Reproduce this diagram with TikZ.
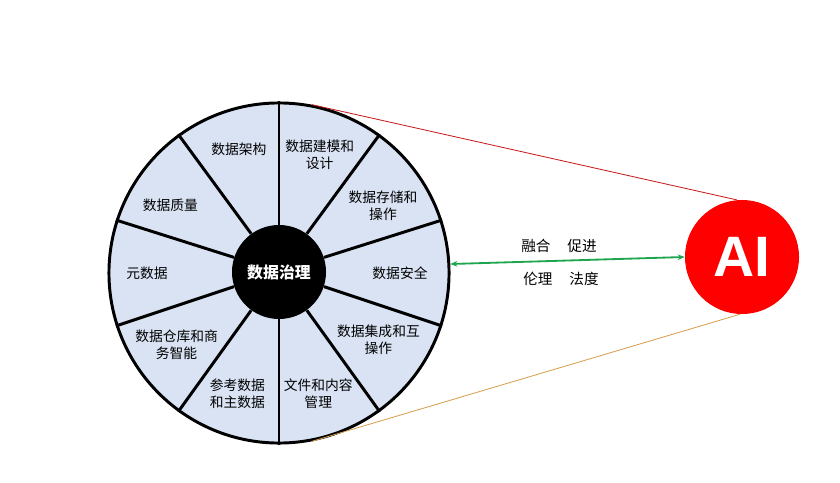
\documentclass[tikz,border=0pt]{standalone}
\usepackage{fontspec}
\setmainfont{Liberation Sans}
\newfontfamily\cjk{Noto Sans CJK SC}
\usetikzlibrary{arrows.meta}
\definecolor{segfill}{HTML}{DAE3F3}
\definecolor{aired}{HTML}{FF0000}
\definecolor{linkgreen}{HTML}{1FA44F}
\definecolor{upred}{HTML}{C81E1E}
\definecolor{downorange}{HTML}{D9A050}
\tikzset{
	seg/.style={font=\cjk\fontsize{9.8}{12}\selectfont, align=center, inner sep=0pt},
	tie/.style={font=\cjk\fontsize{10.4}{12}\selectfont, inner sep=0pt},
}

\begin{document}
\begin{tikzpicture}[x=0.025cm, y=0.025cm]
		\useasboundingbox (0,0) rectangle (840,482);

		\node[circle, draw, line width=2.1pt, fill=segfill, inner sep=0pt, minimum size=8.5cm] (wheel) at (279,209) {};
		\node[circle, inner sep=0pt, minimum size=2.35cm] (hub) at (279,210) {};

		\foreach \a in {18,54,...,342}
			\draw[line width=2.1pt] (hub.\a) -- (wheel.\a);

		\node[circle, fill=black, inner sep=0pt, minimum size=2.35cm, text=white, font=\cjk\bfseries\fontsize{11.3}{13}\selectfont] at (hub) {数据治理};

		\node[seg] (arch) at ([shift={(108:130)}]wheel.center) {数据架构};
		\node[seg] (model) at ([shift={(71:125)}]wheel.center) {数据建模和\\设计};
		\node[seg] (store) at ([shift={(33:124)}]wheel.center) {数据存储和\\操作};
		\node[seg] (secure) at ([shift={(0:121)}]wheel.center) {数据安全};
		\node[seg] (integ) at ([shift={(-34:120)}]wheel.center) {数据集成和互\\操作};
		\node[seg] (doc) at ([shift={(-72:127)}]wheel.center) {文件和内容\\管理};
		\node[seg] (master) at ([shift={(-109:128)}]wheel.center) {参考数据\\和主数据};
		\node[seg] (dw) at ([shift={(-145:125)}]wheel.center) {数据仓库和商\\务智能};
		\node[seg] (meta) at ([shift={(180:132)}]wheel.center) {元数据};
		\node[seg] (quality) at ([shift={(148:128)}]wheel.center) {数据质量};

		\node[circle, fill=aired, inner sep=0pt, minimum size=2.85cm, text=white, font=\bfseries\fontsize{40.5}{41}\selectfont] (ai) at (742,225) {AI};

		\draw[upred, line width=0.6pt] (wheel.79) -- (ai.95);
		\draw[downorange, line width=0.6pt] (wheel.-79) -- (ai.-92);
		\draw[linkgreen, line width=1.3pt, {Stealth[length=5pt,width=4pt]}-{Stealth[length=5pt,width=4pt]}] (wheel.3) -- (ai.west);

		\node[tie] (merge) at (559,236) {融合\hspace{12pt}促进};
		\node[tie] (ethic) at (561,203) {伦理\hspace{12pt}法度};
	\end{tikzpicture}
\end{document}
